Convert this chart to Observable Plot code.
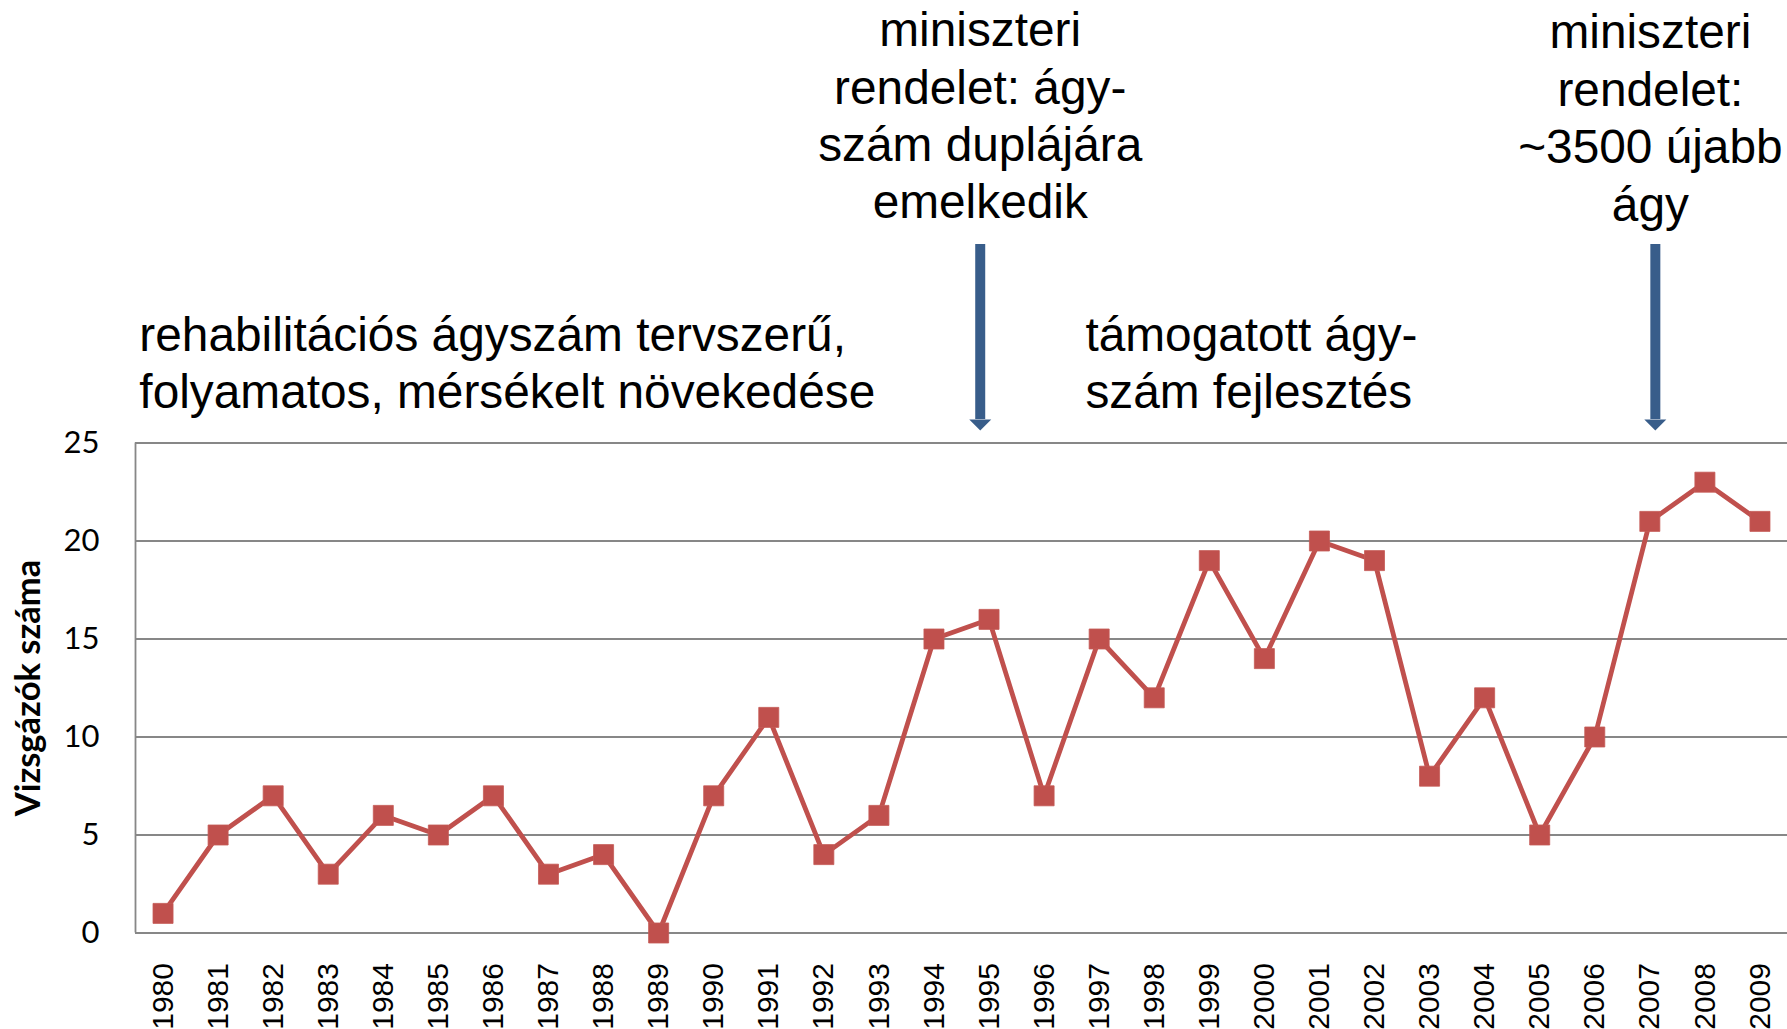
<!DOCTYPE html>
<html>
<head>
<meta charset="utf-8">
<script src="https://cdn.jsdelivr.net/npm/d3@7"></script>
<script src="https://cdn.jsdelivr.net/npm/@observablehq/plot@0.6"></script>
<style>
  body { margin: 0; background: #ffffff; }
  #chart svg { display: block; background: #ffffff; }
</style>
</head>
<body>
<div id="chart"></div>
<script>
// ---- data ----
const years = [1980, 1981, 1982, 1983, 1984, 1985, 1986, 1987, 1988, 1989,
               1990, 1991, 1992, 1993, 1994, 1995, 1996, 1997, 1998, 1999,
               2000, 2001, 2002, 2003, 2004, 2005, 2006, 2007, 2008, 2009];
const values = [1, 5, 7, 3, 6, 5, 7, 3, 4, 0,
                7, 11, 4, 6, 15, 16, 7, 15, 12, 19,
                14, 20, 19, 8, 12, 5, 10, 21, 23, 21];
const yTicks = [0, 5, 10, 15, 20, 25];
const yLabel = "Vizsgázók száma";

// annotations (in data units: year, value)
const leftNotes = ["rehabilitációs ágyszám tervszerű,\nfolyamatos, mérsékelt növekedése",
                   "támogatott ágy-\nszám fejlesztés"];
const leftNoteYear = [1979.57, 1996.75];
const leftNoteValue = [26.77, 26.77];
const topNotes = ["miniszteri\nrendelet: ágy-\nszám duplájára\nemelkedik",
                  "miniszteri\nrendelet:\n~3500 újabb\nágy"];
const topNoteYear = [1994.84, 2007.01];
const topNoteValue = [36.46, 36.35];
const arrowYear = [1994.84, 2007.1];
const arrowFrom = [35.13, 35.13];
const arrowTo = [26.2, 26.2];

// ---- rendering ----
const RED = "#C0504D";
const BLUE = "#385D8A";
const GRID = "#878787";

const points = years.map((y, i) => ({year: y, value: values[i]}));
const leftIdx = leftNotes.map((_, i) => i);
const topIdx = topNotes.map((_, i) => i);
const arrowIdx = arrowYear.map((_, i) => i);

const downHead = {
  draw(ctx, size) {
    const r = Math.sqrt(size / Math.PI);
    ctx.moveTo(-r, 0);
    ctx.lineTo(r, 0);
    ctx.lineTo(0, r);
    ctx.closePath();
  }
};

const chart = Plot.plot({
  width: 1787,
  height: 1029,
  marginLeft: 135,
  marginRight: 0,
  marginTop: 442.5,
  marginBottom: 96.5,
  style: {background: "#ffffff"},
  x: {domain: [years[0] - 0.5, years[years.length - 1] + 0.5]},
  y: {domain: [yTicks[0], yTicks[yTicks.length - 1]]},
  marks: [
    Plot.ruleY(yTicks, {stroke: GRID, strokeWidth: 1.8}),
    Plot.ruleX([years[0] - 0.5], {y1: yTicks[0], y2: yTicks[yTicks.length - 1], stroke: GRID, strokeWidth: 1.8}),
    Plot.axisY({
      ticks: yTicks, tickSize: 0, tickPadding: 36, label: null,
      fontSize: 31, fontFamily: "Lato, 'Open Sans', sans-serif", fill: "#000"
    }),
    Plot.axisY({
      ticks: [], label: yLabel, labelAnchor: "center", labelArrow: "none", labelOffset: 120,
      fontSize: 34.5, fontWeight: "bold", fontFamily: "Lato, 'Open Sans', sans-serif", fill: "#000"
    }),
    Plot.axisX({
      ticks: years, tickFormat: d => String(d), tickSize: 0, tickPadding: 30, tickRotate: -90,
      label: null, fontSize: 30, fontFamily: "'Liberation Sans', Arial, sans-serif", fill: "#000"
    }),
    Plot.line(points, {x: "year", y: "value", stroke: RED, strokeWidth: 4.8, strokeLinejoin: "round"}),
    Plot.dot(points, {x: "year", y: "value", symbol: "square", r: 11.3, fill: RED, stroke: "#c55a57", strokeWidth: 0.8}),
    Plot.text(leftIdx, {
      x: i => leftNoteYear[i], y: i => leftNoteValue[i], text: i => leftNotes[i],
      textAnchor: "start", lineAnchor: "bottom", lineHeight: 1.2,
      fontSize: 47.8, fontFamily: "'Liberation Sans', Arial, sans-serif", fill: "#000"
    }),
    Plot.text(topIdx, {
      x: i => topNoteYear[i], y: i => topNoteValue[i], text: i => topNotes[i],
      textAnchor: "middle", lineAnchor: "bottom", lineHeight: 1.2,
      fontSize: 47.8, fontFamily: "'Liberation Sans', Arial, sans-serif", fill: "#000"
    }),
    Plot.ruleX(arrowIdx, {
      x: i => arrowYear[i], y1: i => arrowFrom[i], y2: i => arrowTo[i],
      stroke: BLUE, strokeWidth: 10
    }),
    Plot.dot(arrowIdx, {
      x: i => arrowYear[i], y: i => arrowTo[i], symbol: downHead, r: 11, fill: BLUE, stroke: "none"
    })
  ]
});
document.getElementById("chart").appendChild(chart);
</script>
</body>
</html>
